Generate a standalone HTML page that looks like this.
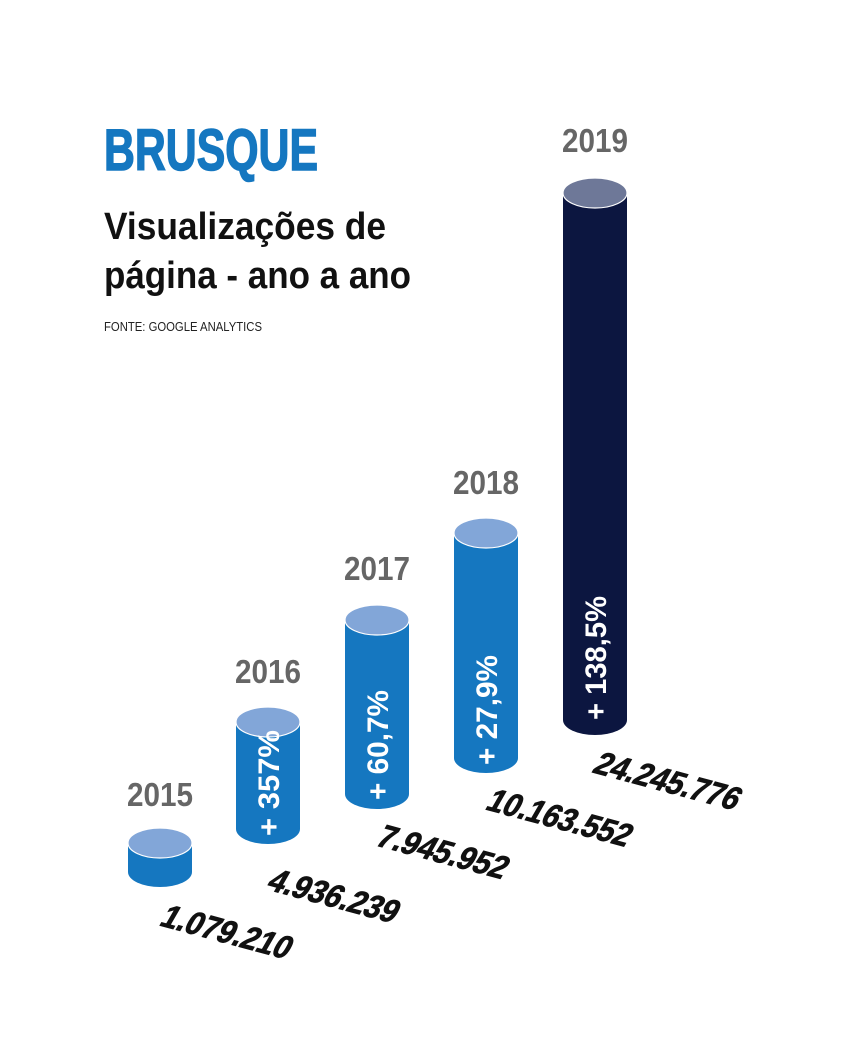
<!DOCTYPE html>
<html><head><meta charset="utf-8"><style>
html,body{margin:0;padding:0;background:#fff;}
svg{display:block;}
text{font-family:"Liberation Sans Narrow","Liberation Sans",sans-serif;font-weight:bold;}
</style></head><body>
<svg width="864" height="1063" viewBox="0 0 864 1063" xmlns="http://www.w3.org/2000/svg">
<text x="104" y="170" font-size="58" fill="#1577c0" textLength="214" lengthAdjust="spacingAndGlyphs" stroke="#1577c0" stroke-width="1.5">BRUSQUE</text>
<text x="104" y="239" font-size="38" fill="#111" textLength="282" lengthAdjust="spacingAndGlyphs">Visualizações de</text>
<text x="104" y="288" font-size="38" fill="#111" textLength="307" lengthAdjust="spacingAndGlyphs">página - ano a ano</text>
<text x="104" y="331" font-size="13" style="font-weight:normal" fill="#222" textLength="158" lengthAdjust="spacingAndGlyphs">FONTE: GOOGLE ANALYTICS</text>

<g font-size="33" fill="#666" text-anchor="middle">
<text x="160" y="806" textLength="66" lengthAdjust="spacingAndGlyphs">2015</text>
<text x="268" y="683" textLength="66" lengthAdjust="spacingAndGlyphs">2016</text>
<text x="377" y="580" textLength="66" lengthAdjust="spacingAndGlyphs">2017</text>
<text x="486" y="494" textLength="66" lengthAdjust="spacingAndGlyphs">2018</text>
<text x="595" y="152" textLength="66" lengthAdjust="spacingAndGlyphs">2019</text>
</g>

<g>
<path d="M128 843 L128 872 A32 15 0 0 0 192 872 L192 843 Z" fill="#1577c0"/>
<ellipse cx="160" cy="843" rx="32" ry="15" fill="#82a6d8" stroke="#fff" stroke-width="1.2"/>
<path d="M236 722 L236 829 A32 15 0 0 0 300 829 L300 722 Z" fill="#1577c0"/>
<ellipse cx="268" cy="722" rx="32" ry="15" fill="#82a6d8" stroke="#fff" stroke-width="1.2"/>
<path d="M345 620 L345 794 A32 15 0 0 0 409 794 L409 620 Z" fill="#1577c0"/>
<ellipse cx="377" cy="620" rx="32" ry="15" fill="#82a6d8" stroke="#fff" stroke-width="1.2"/>
<path d="M454 533 L454 758 A32 15 0 0 0 518 758 L518 533 Z" fill="#1577c0"/>
<ellipse cx="486" cy="533" rx="32" ry="15" fill="#82a6d8" stroke="#fff" stroke-width="1.2"/>
<path d="M563 193 L563 720 A32 15 0 0 0 627 720 L627 193 Z" fill="#0c1640"/>
<ellipse cx="595" cy="193" rx="32" ry="15" fill="#6e7898" stroke="#fff" stroke-width="1.2"/>
</g>

<g font-size="30" fill="#fff" text-anchor="middle">
<text transform="translate(279,783) rotate(-90)" textLength="106" lengthAdjust="spacingAndGlyphs">+ 357%</text>
<text transform="translate(388,745) rotate(-90)" textLength="110" lengthAdjust="spacingAndGlyphs">+ 60,7%</text>
<text transform="translate(497,710) rotate(-90)" textLength="110" lengthAdjust="spacingAndGlyphs">+ 27,9%</text>
<text transform="translate(606,658) rotate(-90)" textLength="124" lengthAdjust="spacingAndGlyphs">+ 138,5%</text>
</g>

<g font-size="33" fill="#111" stroke="#111" stroke-width="0.8">
<text transform="translate(158,925) rotate(15) skewX(-15)" textLength="132" lengthAdjust="spacingAndGlyphs">1.079.210</text>
<text transform="translate(265,889) rotate(15) skewX(-15)" textLength="132" lengthAdjust="spacingAndGlyphs">4.936.239</text>
<text transform="translate(374,845) rotate(15) skewX(-15)" textLength="132" lengthAdjust="spacingAndGlyphs">7.945.952</text>
<text transform="translate(484,809) rotate(15) skewX(-15)" textLength="146" lengthAdjust="spacingAndGlyphs">10.163.552</text>
<text transform="translate(591,772) rotate(15) skewX(-15)" textLength="148" lengthAdjust="spacingAndGlyphs">24.245.776</text>
</g>
</svg>
</body></html>
